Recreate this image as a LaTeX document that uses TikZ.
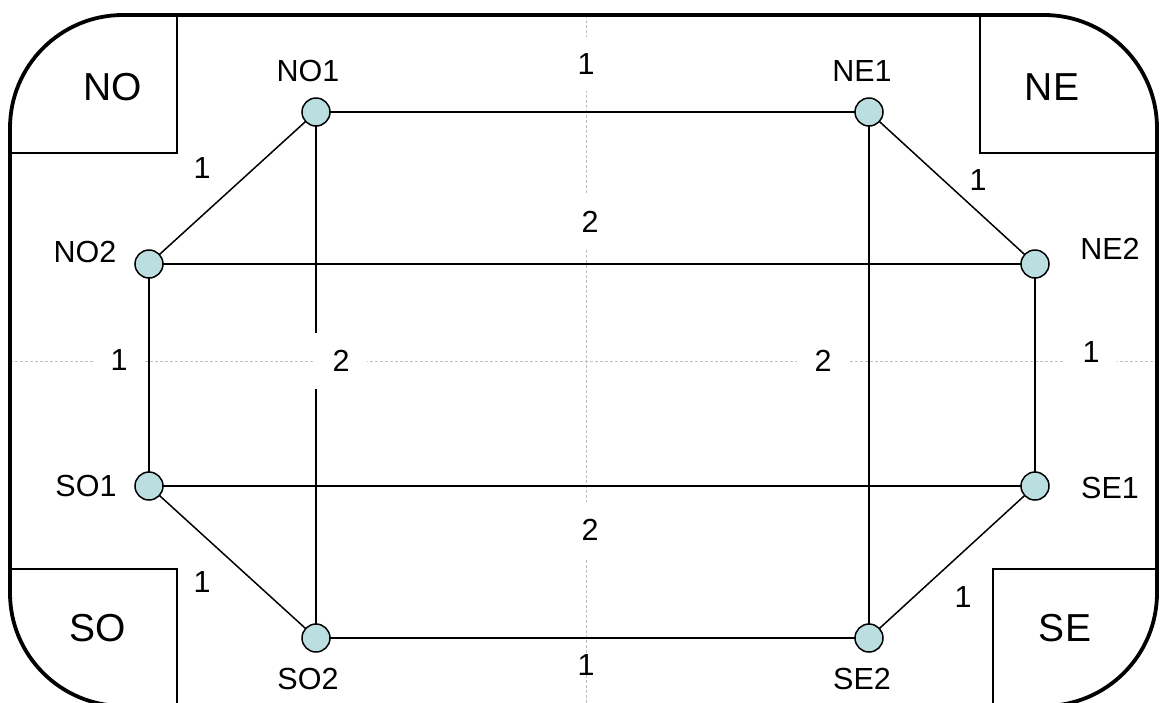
\documentclass[tikz,border=0pt]{standalone}
\usepackage{fontspec}
\setmainfont{Liberation Sans}
\begin{document}
\begin{tikzpicture}[x=1pt,y=-1pt,
  vtx/.style={circle,draw=black,line width=1.5pt,fill=nodeblue,minimum size=28pt,inner sep=0pt},
  edge/.style={line width=1.5pt,black},
  guide/.style={line width=0.6pt,gray!50,dash pattern=on 3pt off 2pt},
  small/.style={font=\fontsize{30.5}{36}\selectfont,inner sep=0pt},
  wlab/.style={small,fill=white,inner xsep=17.5pt,inner ysep=17pt},
  big/.style={font=\fontsize{39}{46}\selectfont,inner sep=0pt},
  frame/.style={line width=3.8pt,black,rounded corners=113pt},
  boxline/.style={line width=1.5pt,black}]
\definecolor{nodeblue}{HTML}{BBDFE1}
\useasboundingbox (0,0) rectangle (1160,702);
\clip (0,0) rectangle (1160,702);
% guides
\coordinate (gt) at (586,15);
\coordinate (gb) at (586,705);
\coordinate (gl) at (10,361);
\coordinate (gr) at (1157,361);
\draw[guide] (gt) -- (gb);
\draw[guide] (gl) -- (gr);
% frame
\draw[frame] (10,15) rectangle (1157,706);
% corner boxes
\draw[boxline] (177,15) -- (177,153) -- (10,153);
\draw[boxline] (980,15) -- (980,153) -- (1157,153);
\draw[boxline] (10,569) -- (177,569) -- (177,705);
\draw[boxline] (1157,569) -- (993,569) -- (993,705);
\node[big] (NO) at (113,87) {NO};
\node[big] (NE) at (1052,87) {NE};
\node[big] (SO) at (98,628) {SO};
\node[big] (SE) at (1065,628) {SE};
% vertex coordinates
\coordinate (pNO1) at (316,112);
\coordinate (pNE1) at (869,112);
\coordinate (pNO2) at (149,264);
\coordinate (pNE2) at (1035,264);
\coordinate (pSO1) at (149,486);
\coordinate (pSE1) at (1035,486);
\coordinate (pSO2) at (316,638);
\coordinate (pSE2) at (869,638);
% edges
\draw[edge] (pNO1) -- (pNE1);
\draw[edge] (pNO1) -- (pNO2);
\draw[edge] (pNO1) -- (pSO2);
\draw[edge] (pNE1) -- (pNE2);
\draw[edge] (pNE1) -- (pSE2);
\draw[edge] (pNO2) -- (pNE2);
\draw[edge] (pNO2) -- (pSO1);
\draw[edge] (pNE2) -- (pSE1);
\draw[edge] (pSO1) -- (pSE1);
\draw[edge] (pSO1) -- (pSO2);
\draw[edge] (pSO2) -- (pSE2);
\draw[edge] (pSE1) -- (pSE2);
% edge labels
\node[wlab] (w1) at (586,64) {1};
\node[small] (w2) at (202,168) {1};
\node[small] (w3) at (978,180) {1};
\node[wlab] (w4) at (590,222) {2};
\node[wlab] (w5) at (119,360) {1};
\node[wlab] (w6) at (341,361) {2};
\node[wlab] (w7) at (823,361) {2};
\node[wlab] (w8) at (1091,352) {1};
\node[wlab] (w9) at (590,530) {2};
\node[small] (w10) at (202,582) {1};
\node[small] (w11) at (963,597) {1};
\node[small] (w12) at (586,665) {1};
% vertices
\node[vtx] (NO1) at (pNO1) {};
\node[vtx] (NE1) at (pNE1) {};
\node[vtx] (NO2) at (pNO2) {};
\node[vtx] (NE2) at (pNE2) {};
\node[vtx] (SO1) at (pSO1) {};
\node[vtx] (SE1) at (pSE1) {};
\node[vtx] (SO2) at (pSO2) {};
\node[vtx] (SE2) at (pSE2) {};
% vertex names
\node[small] (tNO1) at (308,71) {NO1};
\node[small] (tNE1) at (862,71) {NE1};
\node[small] (tNO2) at (85,252) {NO2};
\node[small] (tNE2) at (1110,249) {NE2};
\node[small] (tSO1) at (86,486) {SO1};
\node[small] (tSE1) at (1110,488) {SE1};
\node[small] (tSO2) at (308,679) {SO2};
\node[small] (tSE2) at (862,679) {SE2};
\end{tikzpicture}
\end{document}
